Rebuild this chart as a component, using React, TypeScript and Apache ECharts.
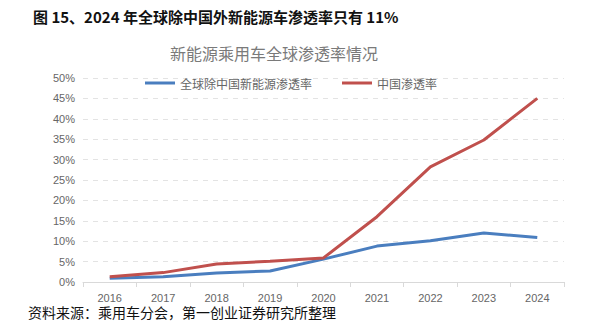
import React, { useEffect, useRef } from "react";
import * as echarts from "echarts";

const years = ["2016", "2017", "2018", "2019", "2020", "2021", "2022", "2023", "2024"];
const globalExChina = [0.9, 1.3, 2.2, 2.7, 5.6, 8.8, 10.1, 12.0, 10.9];
const china = [1.3, 2.3, 4.4, 5.1, 5.9, 16.0, 28.2, 34.8, 45.0];
const yTicks = [0, 5, 10, 15, 20, 25, 30, 35, 40, 45, 50];

export default function App() {
  const ref = useRef<HTMLDivElement>(null);
  useEffect(() => {
    const chart = echarts.init(ref.current!, undefined, { renderer: "svg" });
    chart.setOption({
      animation: false,
      backgroundColor: "#fff",
      title: [
        {
          text: "图 15、2024 年全球除中国外新能源车渗透率只有 11%",
          left: 28,
          top: 4,
          textStyle: { fontFamily: "Noto Sans CJK SC", fontSize: 15, fontWeight: "bold", color: "#111" },
        },
        {
          text: "新能源乘用车全球渗透率情况",
          left: 165,
          top: 40,
          textStyle: { fontFamily: "Noto Sans CJK SC", fontSize: 16, fontWeight: "normal", color: "#7a7a7a" },
        },
        {
          text: "资料来源：乘用车分会，第一创业证券研究所整理",
          left: 28,
          top: 303,
          padding: 0,
          textStyle: { fontFamily: "Noto Sans CJK SC", fontSize: 14, lineHeight: 18, fontWeight: "normal", color: "#111" },
        },
      ],
      legend: {
        top: 72,
        left: 140,
        itemGap: 30,
        itemWidth: 30,
        itemHeight: 3,
        icon: "rect",
        textStyle: { fontFamily: "Noto Sans CJK SC", fontSize: 12, color: "#666" },
        data: ["全球除中国新能源渗透率", "中国渗透率"],
      },
      grid: { left: 83, right: 45, top: 78, bottom: 43 },
      xAxis: {
        type: "category",
        data: years,
        axisLine: { lineStyle: { color: "#d9d9d9" } },
        axisTick: { show: true, lineStyle: { color: "#d9d9d9" } },
        axisLabel: { color: "#666", fontSize: 11, fontFamily: "Liberation Sans", margin: 10 },
      },
      yAxis: {
        type: "value",
        min: 0,
        max: 50,
        interval: 5,
        axisLine: { show: false },
        axisTick: { show: false },
        axisLabel: {
          color: "#666",
          fontSize: 11,
          fontFamily: "Liberation Sans",
          formatter: (v: number) => (yTicks.includes(v) ? v + "%" : ""),
        },
        splitLine: { lineStyle: { color: "#e3e3e3", type: [5, 5] } },
      },
      series: [
        {
          name: "全球除中国新能源渗透率",
          type: "line",
          data: globalExChina,
          symbol: "none",
          lineStyle: { width: 3, color: "#4a7ebf" },
          itemStyle: { color: "#4a7ebf" },
        },
        {
          name: "中国渗透率",
          type: "line",
          data: china,
          symbol: "none",
          lineStyle: { width: 3, color: "#c0504d" },
          itemStyle: { color: "#c0504d" },
        },
      ],
    });
    return () => chart.dispose();
  }, []);
  return <div ref={ref} style={{ position: "absolute", left: 0, top: 0, width: 609, height: 325 }} />;
}
